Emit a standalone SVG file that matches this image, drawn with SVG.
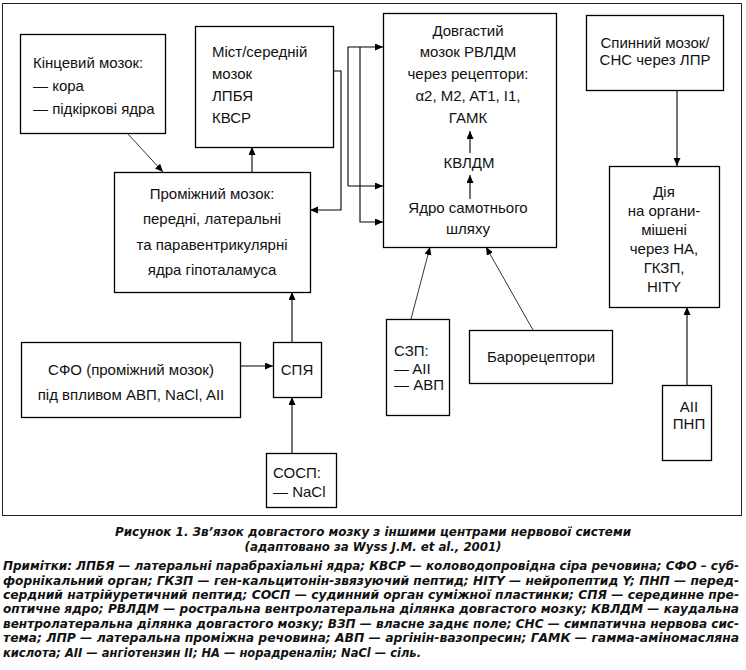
<svg xmlns="http://www.w3.org/2000/svg" width="746" height="670" viewBox="0 0 746 670">
<defs>
<marker id="ah" markerUnits="userSpaceOnUse" markerWidth="9" markerHeight="8" refX="8" refY="3.5" orient="auto"><path d="M0,0 L8,3.5 L0,7 z" fill="#000"/></marker>
<style>
.box{fill:#fff;stroke:#000;stroke-width:1.3}
.t{font-family:"Liberation Sans",Arial,sans-serif;font-size:15px;fill:#111}
.c{text-anchor:middle}
.ln{fill:none;stroke:#000;stroke-width:1.1}
.thin{fill:none;stroke:#000;stroke-width:0.8}
.cap{font-family:"Liberation Sans Narrow","DejaVu Sans Condensed","Liberation Sans",sans-serif;font-stretch:condensed;font-style:italic;font-weight:bold;fill:#111}
</style>
</defs>
<rect x="2.5" y="3.5" width="739" height="512" fill="#fff" stroke="#222" stroke-width="1"/>

<g id="kintsevyi">
<rect class="box" x="20.5" y="34.5" width="145" height="99"/>
<text class="t" x="33" y="68">Кінцевий мозок:</text>
<text class="t" x="33" y="91">— кора</text>
<text class="t" x="33" y="114">— підкіркові ядра</text>
</g>

<g id="mist">
<rect class="box" x="195.5" y="26.5" width="138" height="121"/>
<text class="t" x="212" y="57">Міст/середній</text>
<text class="t" x="212" y="79">мозок</text>
<text class="t" x="212" y="101">ЛПБЯ</text>
<text class="t" x="212" y="123">КВСР</text>
</g>

<g id="promizhnyi">
<rect class="box" x="114.5" y="172.5" width="196" height="120"/>
<text class="t c" x="212" y="199">Проміжний мозок:</text>
<text class="t c" x="212" y="224">передні, латеральні</text>
<text class="t c" x="212" y="250">та паравентрикулярні</text>
<text class="t c" x="212" y="275">ядра гіпоталамуса</text>
</g>

<g id="dovgastyi">
<rect class="box" x="383.5" y="13.5" width="173" height="234"/>
<text class="t c" x="468" y="36">Довгастий</text>
<text class="t c" x="468" y="57">мозок РВЛДМ</text>
<text class="t c" x="468" y="79">через рецептори:</text>
<text class="t c" x="468" y="101">α2, M2, AT1, I1,</text>
<text class="t c" x="468" y="123">ГАМК</text>
<text class="t c" x="469" y="168">КВЛДМ</text>
<text class="t c" x="468" y="213">Ядро самотнього</text>
<text class="t c" x="468" y="234">шляху</text>
</g>

<g id="spynnyi">
<rect class="box" x="586.5" y="15.5" width="137" height="75"/>
<text class="t c" x="655" y="48">Спинний мозок/</text>
<text class="t c" x="655" y="65">СНС через ЛПР</text>
</g>

<g id="diia">
<rect class="box" x="609.5" y="166.5" width="110" height="141"/>
<text class="t c" x="664" y="197">Дія</text>
<text class="t c" x="664" y="216">на органи-</text>
<text class="t c" x="664" y="235">мішені</text>
<text class="t c" x="664" y="254">через НА,</text>
<text class="t c" x="664" y="273">ГКЗП,</text>
<text class="t c" x="664" y="292">НІТY</text>
</g>

<g id="sfo">
<rect class="box" x="21.5" y="342.5" width="219" height="75"/>
<text class="t c" x="131" y="375">СФО (проміжний мозок)</text>
<text class="t c" x="131" y="400">під впливом АВП, NaCl, AII</text>
</g>

<g id="spia">
<rect class="box" x="273.5" y="342.5" width="48" height="55"/>
<text class="t c" x="297" y="375">СПЯ</text>
</g>

<g id="sosp">
<rect class="box" x="266.5" y="453.5" width="70" height="54"/>
<text class="t" x="273" y="478">СОСП:</text>
<text class="t" x="273" y="497">— NaCl</text>
</g>

<g id="szp">
<rect class="box" x="386.5" y="319.5" width="63" height="96"/>
<text class="t" x="394" y="356">СЗП:</text>
<text class="t" x="394" y="374">— AII</text>
<text class="t" x="394" y="390">— АВП</text>
</g>

<g id="baro">
<rect class="box" x="469.5" y="330.5" width="143" height="53"/>
<text class="t c" x="541" y="362">Барорецептори</text>
</g>

<g id="aii-pnp">
<rect class="box" x="662.5" y="385.5" width="49" height="75"/>
<text class="t c" x="689" y="412">AII</text>
<text class="t c" x="689" y="429">ПНП</text>
</g>

<g id="connectors">
<path class="thin" d="M128,134 L163,172" marker-end="url(#ah)"/>
<path class="ln" d="M252,172 V147" marker-end="url(#ah)"/>
<path class="ln" d="M333,71 H341 V210 H310" marker-end="url(#ah)"/>
<path class="ln" d="M348,186 V47 H383" marker-end="url(#ah)"/>
<path class="ln" d="M348,186 H383" marker-end="url(#ah)"/>
<path class="ln" d="M360,47 V222 H383" marker-end="url(#ah)"/>
<path class="ln" d="M470,153 V131" marker-end="url(#ah)"/>
<path class="ln" d="M470,199 V175" marker-end="url(#ah)"/>
<path class="thin" d="M411,319 L430,247" marker-end="url(#ah)"/>
<path class="thin" d="M533,330 L486,247" marker-end="url(#ah)"/>
<path class="ln" d="M677,90 V166" marker-end="url(#ah)"/>
<path class="ln" d="M687,385 V307" marker-end="url(#ah)"/>
<path class="ln" d="M240,366 H273" marker-end="url(#ah)"/>
<path class="ln" d="M292,342 V292" marker-end="url(#ah)"/>
<path class="ln" d="M292,453 V397" marker-end="url(#ah)"/>
</g>

<g id="caption">
<text class="cap" x="373" y="536" font-size="12.5" text-anchor="middle" textLength="516" lengthAdjust="spacingAndGlyphs">Рисунок 1. Зв’язок довгастого мозку з іншими центрами нервової системи</text>
<text class="cap" x="373" y="551" font-size="12.5" text-anchor="middle" textLength="257" lengthAdjust="spacingAndGlyphs">(адаптовано за Wyss J.M. et al., 2001)</text>
<text class="cap" font-size="11.8" x="3" y="570" textLength="736" lengthAdjust="spacingAndGlyphs">Примітки: ЛПБЯ — латеральні парабрахіальні ядра; КВСР — коловодопровідна сіра речовина; СФО – суб-</text>
<text class="cap" font-size="11.8" x="3" y="584.5" textLength="736" lengthAdjust="spacingAndGlyphs">форнікальний орган; ГКЗП — ген-кальцитонін-звязуючий пептид; НІТY — нейропептид Y; ПНП — перед-</text>
<text class="cap" font-size="11.8" x="3" y="599" textLength="736" lengthAdjust="spacingAndGlyphs">сердний натрійуретичний пептид; СОСП — судинний орган суміжної пластинки; СПЯ — серединне пре-</text>
<text class="cap" font-size="11.8" x="3" y="613.4" textLength="736" lengthAdjust="spacingAndGlyphs">оптичне ядро; РВЛДМ — ростральна вентролатеральна ділянка довгастого мозку; КВЛДМ — каудальна</text>
<text class="cap" font-size="11.8" x="3" y="627.8" textLength="736" lengthAdjust="spacingAndGlyphs">вентролатеральна ділянка довгастого мозку; ВЗП — власне заднє поле; СНС — симпатична нервова сис-</text>
<text class="cap" font-size="11.8" x="3" y="642.3" textLength="736" lengthAdjust="spacingAndGlyphs">тема; ЛПР — латеральна проміжна речовина; АВП — аргінін-вазопресин; ГАМК — гамма-аміномасляна</text>
<text class="cap" font-size="11.8" x="3" y="656.7" textLength="418" lengthAdjust="spacingAndGlyphs">кислота; AII — ангіотензин II; НА — норадреналін; NaCl — сіль.</text>
</g>
</svg>
